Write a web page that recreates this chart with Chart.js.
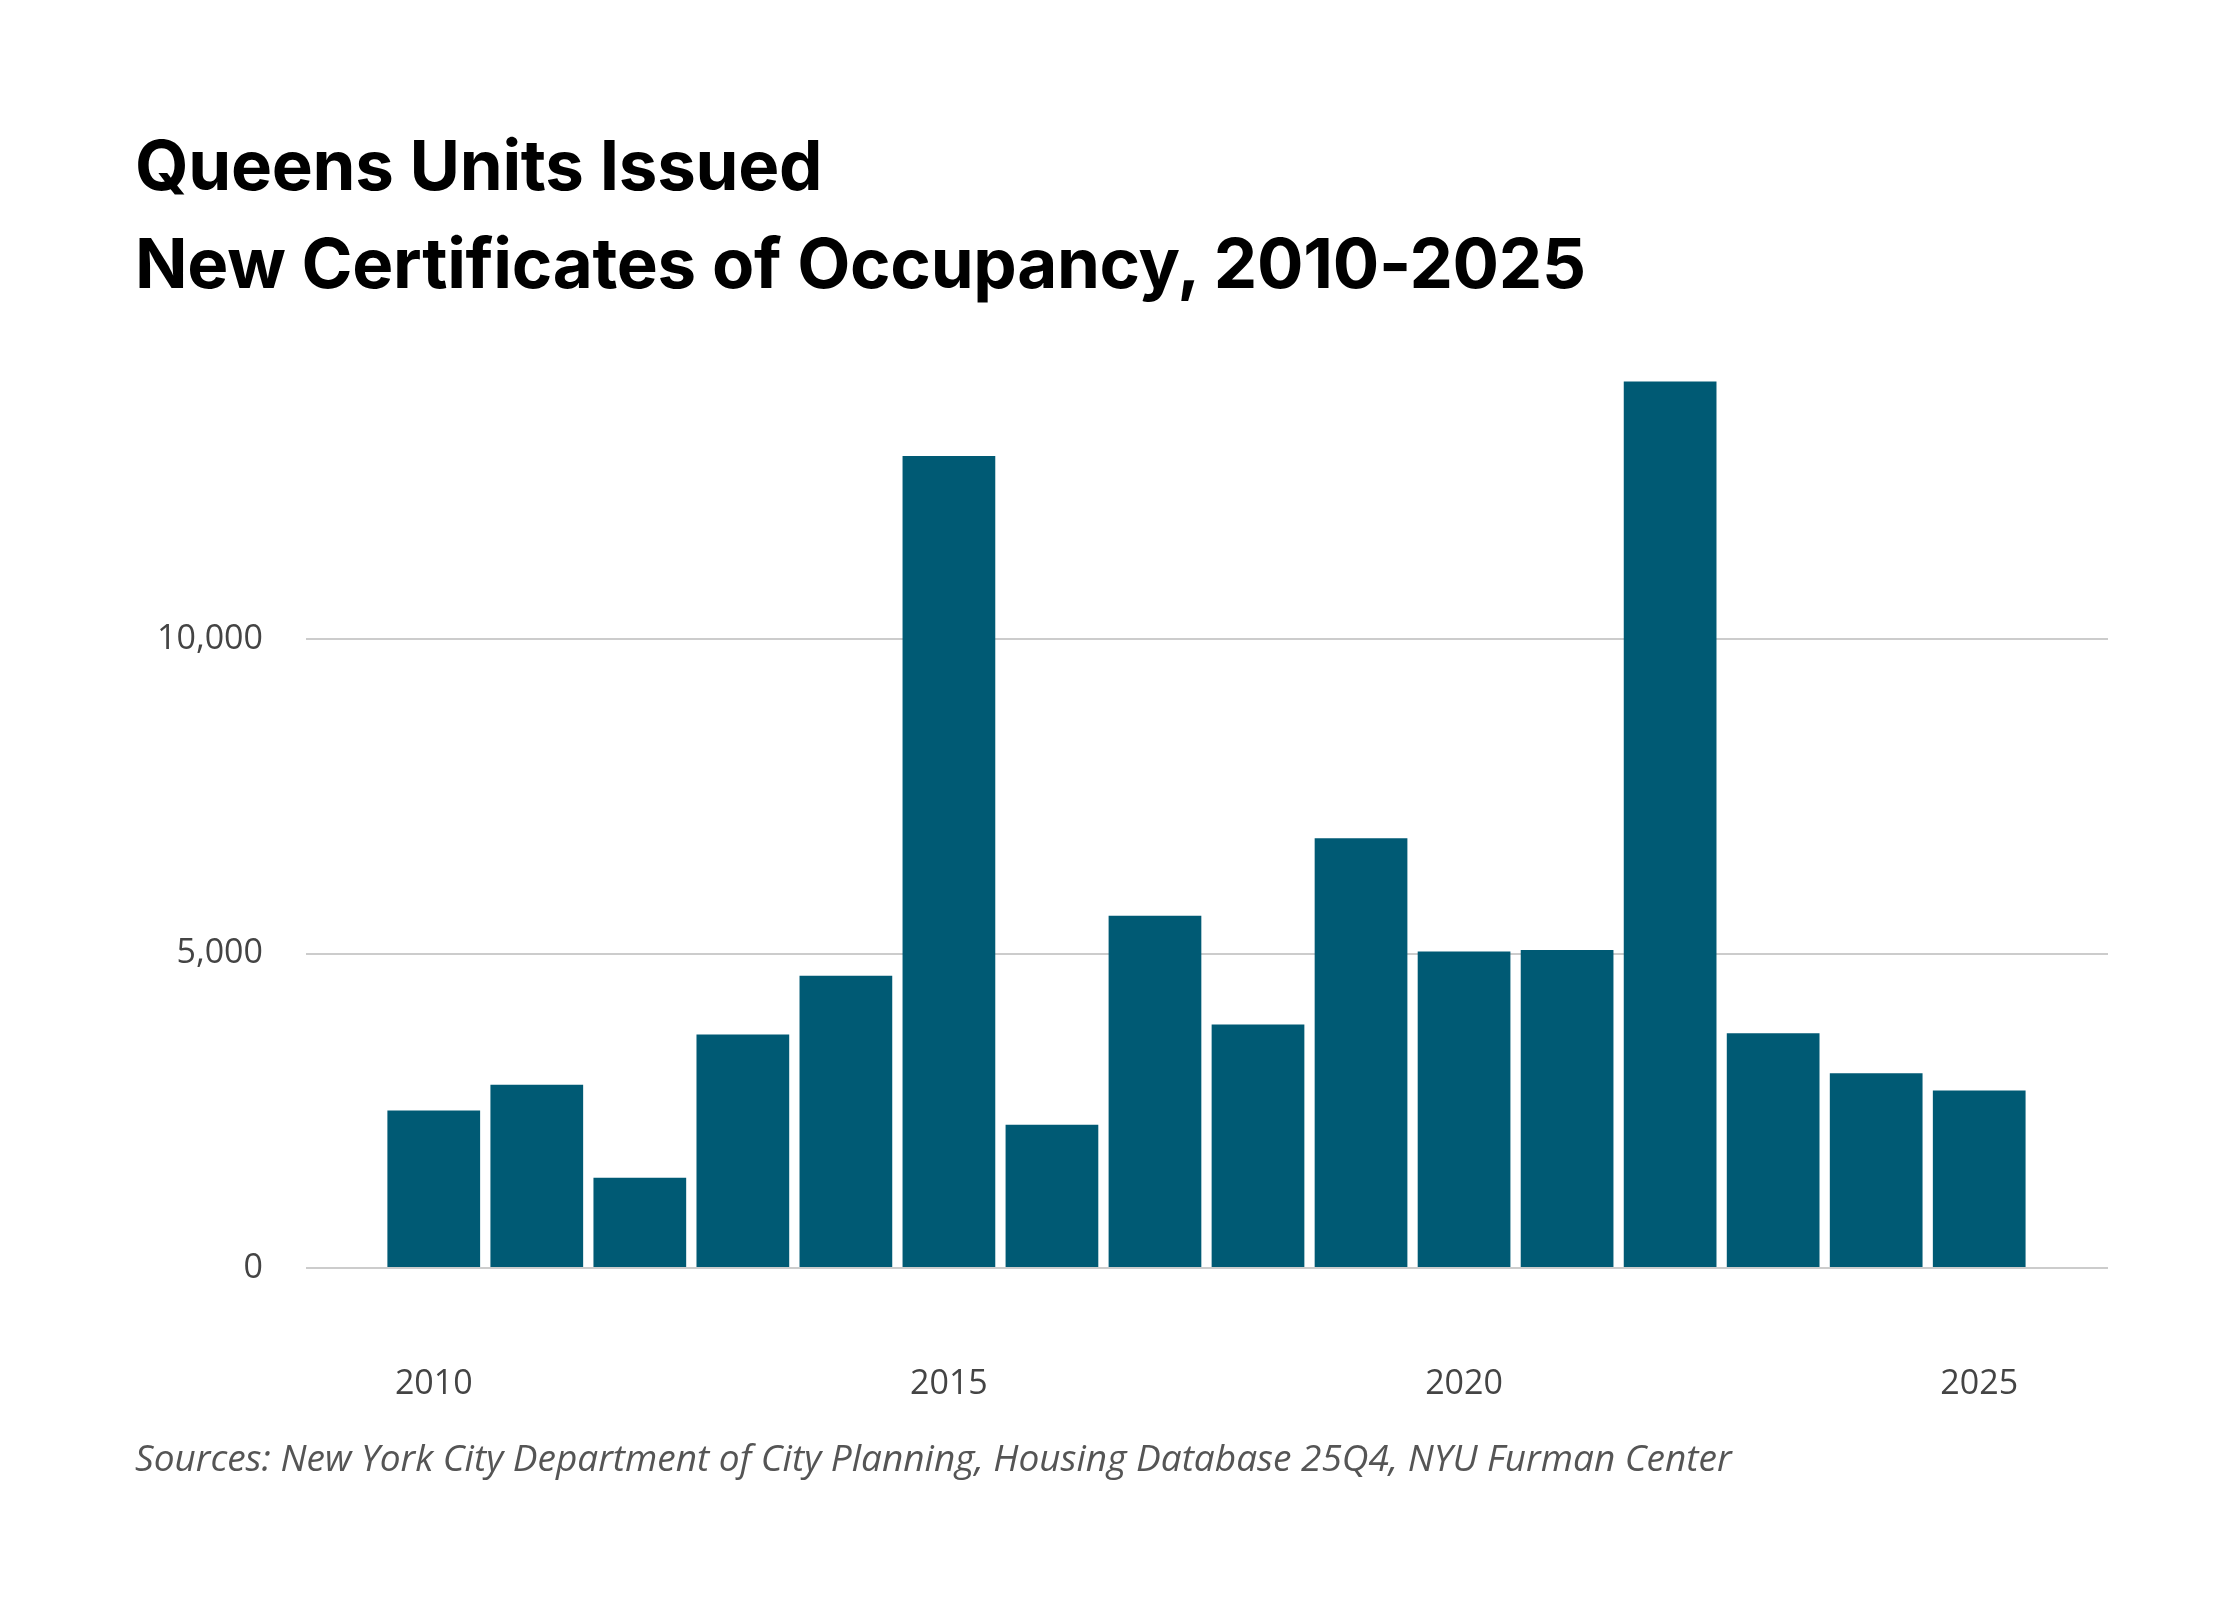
<!DOCTYPE html>
<html>
<head>
<meta charset="utf-8">
<script src="https://cdn.jsdelivr.net/npm/chart.js@4"></script>
<style>
  body { margin: 0; background: #fff; width: 2240px; height: 1600px; position: relative; overflow: hidden; }
  #title { position: absolute; left: 135px; top: 116px; font-family: Inter, "Open Sans", sans-serif; font-weight: 700; font-size: 69px; line-height: 98px; color: #000; letter-spacing: -0.3px; }
  #source { position: absolute; left: 135px; top: 1431px; font-family: "Open Sans", sans-serif; font-style: italic; font-size: 37px; color: #555; }
  #wrap { position: absolute; left: 0; top: 0; width: 2240px; height: 1600px; }
</style>
</head>
<body>
<div id="title">Queens Units Issued<br>New Certificates of Occupancy, 2010-2025</div>
<div id="wrap"><canvas id="chart"></canvas></div>
<div id="source">Sources: New York City Department of City Planning, Housing Database 25Q4, NYU Furman Center</div>
<script>
const years = [2010, 2011, 2012, 2013, 2014, 2015, 2016, 2017, 2018, 2019, 2020, 2021, 2022, 2023, 2024, 2025];
const units = [2506, 2916, 1435, 3713, 4647, 12916, 2278, 5604, 3872, 6834, 5034, 5057, 14100, 3736, 3098, 2825];
const xTicks = [2010, 2015, 2020, 2025];
const yTicks = [0, 5000, 10000];

const ctx = document.getElementById("chart").getContext("2d");
new Chart(ctx, {
  type: "bar",
  data: {
    datasets: [{
      data: years.map((y, i) => ({ x: y, y: units[i] })),
      backgroundColor: "#005a74",
      barPercentage: 0.9,
      categoryPercentage: 1,
    }],
  },
  options: {
    responsive: true,
    maintainAspectRatio: false,
    animation: false,
    layout: { padding: { top: 325, right: 132, bottom: 192, left: 0 } },
    plugins: { legend: { display: false }, tooltip: { enabled: false } },
    scales: {
      x: {
        type: "linear",
        offset: false,
        min: 2008.76,
        max: 2026.25,
        grid: { display: false, offset: false },
        border: { display: false },
        afterBuildTicks: (axis) => { axis.ticks = xTicks.map((v) => ({ value: v })); },
        afterFit: (axis) => { axis.height = 140; },
        ticks: { padding: 88, color: "#444", font: { family: "Open Sans", size: 34 }, callback: (v) => String(v) },
      },
      y: {
        min: 0,
        max: 15000,
        grid: { color: "#cccccc", lineWidth: 2, drawTicks: false },
        border: { display: false },
        afterBuildTicks: (axis) => { axis.ticks = yTicks.map((v) => ({ value: v })); },
        afterFit: (axis) => { axis.width = 306; },
        ticks: { padding: 43, color: "#444", font: { family: "Open Sans", size: 34 }, callback: (v) => v.toLocaleString("en-US") },
      },
    },
  },
});
</script>
</body>
</html>
